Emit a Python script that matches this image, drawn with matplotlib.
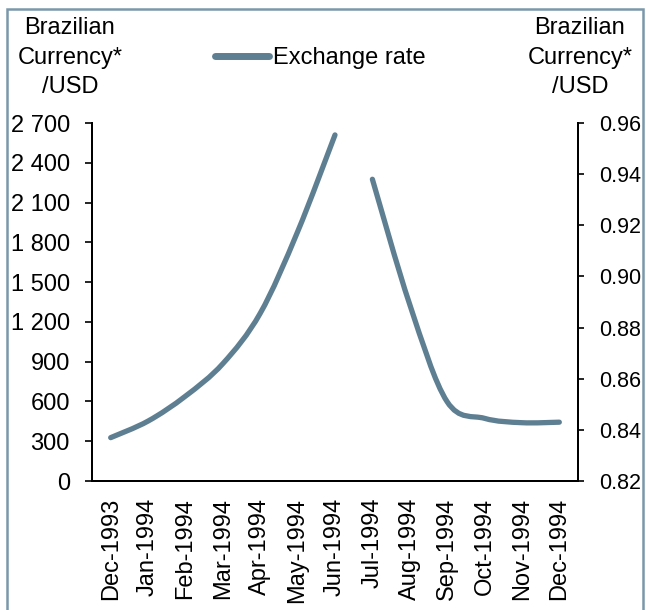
import matplotlib
matplotlib.use("Agg")
import matplotlib.pyplot as plt
from matplotlib.path import Path
from matplotlib.patches import PathPatch, Rectangle
from matplotlib.lines import Line2D
from matplotlib.ticker import FuncFormatter, MultipleLocator

plt.rcParams['font.family'] = ['Liberation Sans', 'DejaVu Sans']

# data
months = ['Dec-1993', 'Jan-1994', 'Feb-1994', 'Mar-1994', 'Apr-1994', 'May-1994',
          'Jun-1994', 'Jul-1994', 'Aug-1994', 'Sep-1994', 'Oct-1994', 'Nov-1994',
          'Dec-1994']
cruzeiro_real = [327, 452, 640, 885, 1265, 1880, 2610]       # Dec-1993 .. Jun-1994, left axis
real = [0.938, 0.889, 0.851, 0.8445, 0.8428, 0.8430, 0.8441]  # Jul-1994 .. Dec-1994, right axis

col = '#5E7F92'
fs = 17


def smooth_path(xs, ys):  # сглаженная линия как в Excel (кривые Безье)
    pts = list(zip(xs, ys))
    n = len(pts)
    verts = [pts[0]]
    codes = [Path.MOVETO]
    for i in range(n - 1):
        p0 = pts[max(i - 1, 0)]
        p1 = pts[i]
        p2 = pts[i + 1]
        p3 = pts[min(i + 2, n - 1)]
        c1 = (p1[0] + (p2[0] - p0[0]) / 6, p1[1] + (p2[1] - p0[1]) / 6)
        c2 = (p2[0] - (p3[0] - p1[0]) / 6, p2[1] - (p3[1] - p1[1]) / 6)
        verts += [c1, c2, p2]
        codes += [Path.CURVE4] * 3
    return Path(verts, codes)


fig = plt.figure(figsize=(6.46, 6.10), dpi=100)
ax = fig.add_axes([92 / 646, 1 - 481 / 610, 486 / 646, 358 / 610])
ax2 = ax.twinx()

x1 = list(range(len(cruzeiro_real)))
x2 = list(range(len(cruzeiro_real), len(months)))
ax.add_patch(PathPatch(smooth_path(x1, cruzeiro_real), fill=False, edgecolor=col,
                       lw=3.8, capstyle='round', joinstyle='round'))
ax2.add_patch(PathPatch(smooth_path(x2, real), fill=False, edgecolor=col,
                        lw=3.8, capstyle='round', joinstyle='round'))

ax.set_xlim(-0.5, len(months) - 0.5)
ax.set_ylim(0, 2700)
ax2.set_ylim(0.82, 0.96)
ax.yaxis.set_major_locator(MultipleLocator(300))
ax2.yaxis.set_major_locator(MultipleLocator(0.02))
ax.yaxis.set_major_formatter(FuncFormatter(lambda v, p: f"{int(round(v)):,}".replace(",", " ")))
ax2.yaxis.set_major_formatter(FuncFormatter(lambda v, p: f"{v:.2f}"))

ax.set_xticks(range(len(months)))
ax.set_xticklabels(months, rotation=90, fontsize=fs)
ax.tick_params(axis='x', length=0, pad=12)
ax.tick_params(axis='y', labelsize=fs, length=5, width=1.2, pad=11, direction='out')
ax2.tick_params(axis='y', labelsize=15.5, length=4, width=1.2, pad=11, direction='out')

for a in (ax, ax2):
    a.spines['top'].set_visible(False)
    for s in ('left', 'right', 'bottom'):
        a.spines[s].set_linewidth(1.4)
        a.spines[s].set_color('black')

fig.text(70 / 646, 1 - 17 / 610, 'Brazilian\nCurrency*\n/USD', ha='center', va='top',
         fontsize=fs, linespacing=1.45)
fig.text(580 / 646, 1 - 17 / 610, 'Brazilian\nCurrency*\n/USD', ha='center', va='top',
         fontsize=fs, linespacing=1.45)

h = Line2D([], [], color=col, lw=5, solid_capstyle='round')
fig.legend(handles=[h], labels=['Exchange rate'], loc='center',
           bbox_to_anchor=(320 / 646, 1 - 58 / 610), frameon=False, fontsize=fs,
           handlelength=2.3, handletextpad=0.15)

# рамка вокруг рисунка
fig.patches.append(Rectangle((7 / 646, -0.05), (643 - 7) / 646, 1.05 - 8.5 / 610,
                             transform=fig.transFigure, fill=False,
                             edgecolor='#7A98AA', lw=1.8, clip_on=False))

fig.savefig('out.png', dpi=100)
